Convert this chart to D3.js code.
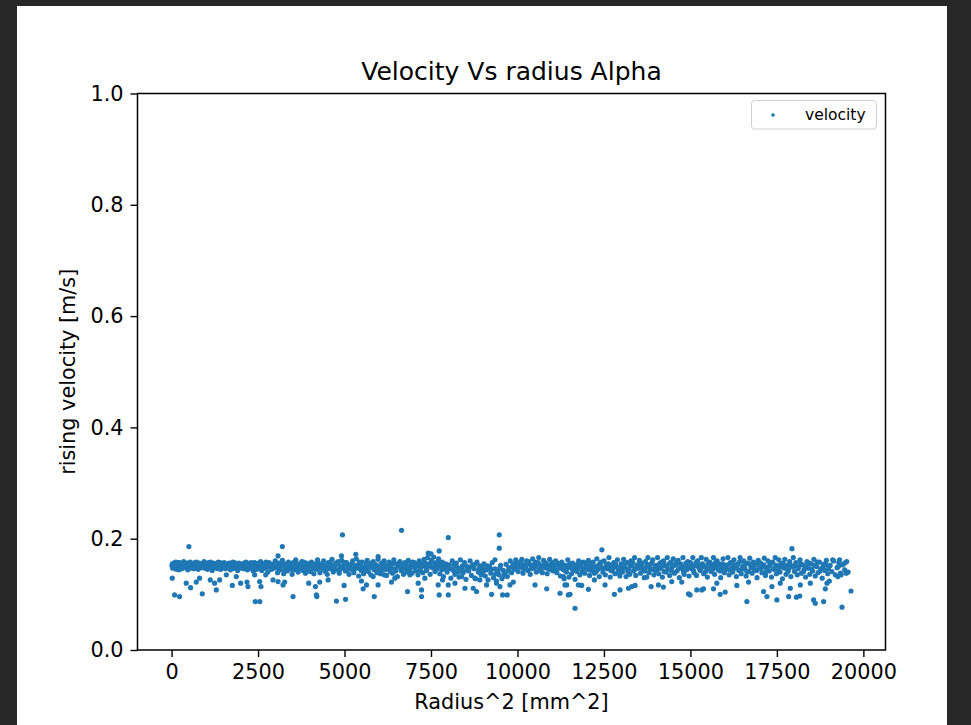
<!DOCTYPE html>
<html>
<head>
<meta charset="utf-8">
<script src="https://cdn.jsdelivr.net/npm/d3@7/dist/d3.min.js"></script>
<style>
  html, body { margin: 0; padding: 0; background: #282828; }
  svg { display: block; }
  text { font-family: "DejaVu Sans", sans-serif; fill: #000; }
</style>
</head>
<body>
<svg id="chart" width="971" height="725"></svg>
<script>
// Measured rise velocity [m/s] against squared bubble radius [mm^2], as [radius^2, velocity].
const bandPoints = [
  [10,.152],[35,.147],[60,.156],[90,.150],[120,.158],[140,.145],[170,.153],[200,.149],[230,.157],[265,.151],[290,.146],[320,.155],[350,.159],[380,.148],[410,.153],[445,.156],[470,.144],[500,.151],[540,.158],[570,.149],[600,.154],[640,.146],[670,.157],[700,.150],[735,.153],[770,.145],[800,.156],[840,.151],[870,.148],[905,.155],[940,.159],[970,.147],
  [1005,.152],[1040,.145],[1075,.157],[1110,.150],[1140,.154],[1175,.143],[1210,.156],[1245,.149],[1280,.153],[1315,.147],[1350,.158],[1385,.151],[1420,.145],[1455,.155],[1490,.150],[1520,.157],[1560,.146],[1595,.153],[1630,.149],[1665,.156],[1700,.144],[1735,.152],[1770,.158],[1805,.147],[1840,.154],[1875,.150],[1910,.143],[1945,.156],[1980,.151],
  [2015,.148],[2050,.155],[2085,.146],[2120,.152],[2150,.158],[2190,.144],[2225,.150],[2260,.156],[2295,.148],[2330,.153],[2365,.142],[2400,.157],[2435,.149],[2470,.154],[2505,.146],[2540,.152],[2575,.159],[2610,.143],[2645,.150],[2680,.155],[2715,.147],[2750,.153],[2785,.140],[2820,.157],[2855,.149],[2890,.145],[2925,.154],[2960,.151],[2995,.160],
  [3030,.148],[3065,.139],[3100,.156],[3135,.144],[3170,.152],[3205,.161],[3240,.137],[3275,.149],[3310,.155],[3345,.142],[3380,.158],[3415,.146],[3450,.151],[3485,.136],[3520,.157],[3555,.144],[3590,.162],[3625,.149],[3660,.140],[3695,.154],[3730,.147],[3765,.159],[3800,.143],[3835,.151],[3870,.138],[3905,.156],[3940,.148],[3975,.153],
  [4010,.141],[4045,.158],[4080,.150],[4115,.137],[4150,.155],[4185,.145],[4220,.162],[4255,.149],[4290,.139],[4325,.153],[4360,.147],[4395,.160],[4430,.143],[4465,.151],[4500,.136],[4535,.157],[4570,.146],[4605,.152],[4640,.163],[4675,.140],[4710,.149],[4745,.156],[4780,.144],[4815,.159],[4850,.138],[4885,.151],[4920,.161],[4955,.147],[4990,.154],
  [5025,.142],[5060,.157],[5095,.149],[5130,.136],[5165,.153],[5200,.145],[5235,.160],[5270,.139],[5305,.151],[5340,.164],[5375,.147],[5410,.133],[5445,.155],[5480,.143],[5515,.158],[5550,.137],[5585,.150],[5620,.146],[5655,.161],[5690,.141],[5725,.154],[5760,.135],[5795,.148],[5830,.159],[5865,.144],[5900,.152],[5935,.139],[5970,.163],
  [6005,.149],[6040,.137],[6075,.156],[6110,.144],[6145,.160],[6180,.151],[6215,.134],[6250,.147],[6285,.158],[6320,.141],[6355,.153],[6390,.138],[6425,.162],[6460,.146],[6495,.155],[6530,.132],[6565,.150],[6600,.159],[6635,.143],[6670,.152],[6705,.136],[6740,.157],[6775,.148],[6810,.140],[6845,.161],[6880,.145],[6915,.154],[6950,.138],[6985,.150],
  [7020,.157],[7055,.142],[7090,.151],[7125,.135],[7160,.160],[7195,.147],[7230,.155],[7265,.139],[7300,.163],[7335,.150],[7370,.143],[7405,.166],[7440,.155],[7475,.136],[7510,.161],[7545,.148],[7580,.167],[7615,.141],[7650,.157],[7685,.152],[7720,.164],[7755,.137],[7790,.150],[7825,.158],[7860,.132],[7895,.146],[7930,.155],[7965,.140],
  [8030,.153],[8075,.129],[8115,.160],[8150,.143],[8190,.136],[8230,.156],[8270,.148],[8310,.131],[8350,.162],[8390,.145],[8430,.139],[8470,.157],[8510,.127],[8550,.150],[8590,.142],[8630,.160],[8670,.134],[8710,.153],[8750,.146],[8790,.128],[8830,.158],[8870,.140],[8910,.151],[8950,.135],[8990,.147],
  [9030,.155],[9070,.133],[9110,.144],[9150,.126],[9190,.150],[9230,.138],[9270,.157],[9310,.130],[9350,.146],[9390,.124],[9430,.141],[9470,.135],[9510,.152],[9550,.128],[9590,.143],[9630,.137],[9670,.154],[9710,.132],[9750,.148],[9790,.160],[9830,.139],[9870,.155],[9910,.145],[9950,.162],[9985,.150],
  [10020,.141],[10055,.157],[10090,.149],[10125,.163],[10160,.138],[10195,.153],[10230,.146],[10265,.160],[10300,.143],[10335,.155],[10370,.136],[10405,.151],[10440,.164],[10475,.147],[10510,.158],[10545,.140],[10580,.154],[10615,.166],[10650,.145],[10685,.152],[10720,.139],[10755,.161],[10790,.148],[10825,.156],[10860,.137],[10895,.150],[10930,.163],[10965,.144],
  [11000,.157],[11035,.142],[11070,.151],[11105,.160],[11140,.139],[11175,.154],[11210,.147],[11245,.133],[11280,.158],[11315,.145],[11350,.128],[11385,.152],[11420,.140],[11455,.162],[11490,.131],[11525,.149],[11560,.137],[11595,.156],[11630,.143],[11665,.127],[11700,.153],[11735,.146],[11770,.160],[11805,.135],[11840,.150],[11875,.142],[11910,.158],[11945,.138],[11980,.155],
  [12015,.147],[12050,.161],[12085,.134],[12120,.152],[12155,.143],[12190,.158],[12225,.138],[12260,.150],[12295,.164],[12330,.145],[12365,.132],[12400,.156],[12435,.148],[12470,.140],[12505,.160],[12540,.135],[12575,.153],[12610,.146],[12645,.166],[12680,.131],[12715,.151],[12750,.142],[12785,.157],[12820,.137],[12855,.149],[12890,.162],[12925,.144],[12960,.133],
  [13000,.155],[13035,.140],[13070,.163],[13105,.148],[13140,.132],[13175,.157],[13210,.145],[13245,.136],[13280,.160],[13315,.151],[13350,.142],[13385,.166],[13420,.134],[13455,.153],[13490,.147],[13525,.161],[13560,.138],[13595,.156],[13630,.143],[13665,.130],[13700,.159],[13735,.150],[13770,.166],[13805,.139],[13840,.154],[13875,.145],[13910,.162],[13945,.135],[13980,.151],
  [14015,.143],[14050,.166],[14085,.137],[14120,.156],[14155,.148],[14190,.131],[14225,.160],[14260,.152],[14295,.140],[14330,.166],[14365,.145],[14400,.134],[14435,.158],[14470,.149],[14505,.164],[14540,.138],[14575,.153],[14610,.142],[14645,.161],[14680,.130],[14715,.155],[14750,.147],[14785,.166],[14820,.136],[14855,.151],[14890,.144],[14925,.159],[14960,.133],
  [15000,.157],[15035,.146],[15070,.166],[15105,.139],[15140,.152],[15175,.134],[15210,.160],[15245,.148],[15280,.143],[15315,.166],[15350,.155],[15385,.137],[15420,.150],[15455,.163],[15490,.131],[15525,.146],[15560,.158],[15595,.141],[15630,.153],[15665,.166],[15700,.136],[15735,.149],[15770,.160],[15805,.144],[15840,.155],[15875,.130],[15910,.147],[15945,.164],[15980,.139],
  [16015,.152],[16050,.145],[16085,.166],[16120,.135],[16155,.157],[16190,.148],[16225,.140],[16260,.162],[16295,.151],[16330,.132],[16365,.155],[16400,.143],[16435,.166],[16470,.137],[16505,.150],[16540,.160],[16575,.146],[16610,.133],[16645,.156],[16680,.141],[16715,.165],[16750,.149],[16785,.138],[16820,.158],[16855,.144],[16890,.153],[16925,.130],[16960,.161],[16995,.147],
  [17030,.156],[17065,.139],[17100,.150],[17135,.165],[17170,.134],[17205,.147],[17240,.160],[17275,.142],[17310,.153],[17345,.131],[17380,.158],[17415,.145],[17450,.166],[17485,.137],[17520,.151],[17555,.162],[17590,.140],[17625,.155],[17660,.128],[17695,.148],[17730,.163],[17765,.136],[17800,.152],[17835,.144],[17870,.159],[17905,.132],[17940,.150],[17975,.166],
  [18010,.141],[18050,.157],[18090,.135],[18130,.149],[18170,.162],[18210,.138],[18250,.153],[18290,.145],[18330,.131],[18370,.159],[18410,.147],[18450,.136],[18490,.155],[18530,.142],[18570,.163],[18610,.133],[18650,.150],[18690,.139],[18730,.158],[18770,.146],[18810,.129],[18850,.154],[18890,.143],[18930,.161],[18970,.137],
  [19040,.152],[19090,.141],[19140,.160],[19190,.135],[19240,.148],[19290,.157],[19340,.138],[19400,.153],[19460,.144],[19520,.159],[19560,.140]
];

// Second pass of readings inside the dense core of the band.
const corePoints = [
  [25,.155],[75,.149],[110,.153],[185,.157],[215,.144],[280,.152],[335,.150],[395,.156],[455,.148],[520,.154],[590,.147],[655,.152],[720,.158],[780,.151],[855,.155],[920,.150],[985,.156],
  [1060,.148],[1125,.158],[1190,.152],[1265,.155],[1335,.146],[1400,.157],[1470,.152],[1540,.149],[1610,.155],[1680,.151],[1750,.146],[1820,.157],[1890,.153],[1960,.147],
  [2035,.152],[2100,.156],[2170,.150],[2240,.146],[2310,.157],[2380,.151],[2450,.145],[2520,.156],[2590,.148],[2660,.153],[2730,.158],[2800,.150],[2870,.154],[2940,.147],
  [3050,.152],[3120,.147],[3190,.157],[3260,.143],[3330,.150],[3400,.154],[3470,.145],[3540,.151],[3610,.156],[3680,.147],[3750,.153],[3820,.158],[3890,.144],[3960,.150],
  [4030,.155],[4100,.146],[4170,.152],[4240,.157],[4310,.148],[4380,.154],[4450,.141],[4520,.150],[4590,.158],[4660,.146],[4730,.152],[4800,.155],[4870,.145],[4940,.150],
  [5010,.157],[5080,.144],[5150,.149],[5220,.155],[5290,.146],[5360,.152],[5430,.158],[5500,.148],[5570,.143],[5640,.154],[5710,.150],[5780,.156],[5850,.147],[5920,.153],[5990,.142],
  [6060,.150],[6130,.156],[6200,.145],[6270,.152],[6340,.148],[6410,.157],[6480,.142],[6550,.154],[6620,.149],[6690,.145],[6760,.155],[6830,.150],[6900,.147],[6970,.158],
  [7040,.149],[7110,.154],[7180,.143],[7250,.151],[7320,.157],[7390,.147],[7460,.152],[7530,.159],[7600,.151],[7670,.146],[7740,.156],[7810,.144],[7880,.153],[7950,.149],
  [8055,.146],[8170,.152],[8290,.140],[8410,.151],[8530,.144],[8650,.149],[8770,.154],[8890,.145],[9010,.141],[9130,.151],[9250,.145],[9370,.137],[9490,.147],[9610,.133],[9730,.142],[9850,.149],[9930,.155],
  [10040,.150],[10110,.156],[10180,.145],[10250,.152],[10320,.159],[10390,.146],[10460,.153],[10530,.149],[10600,.157],[10670,.142],[10740,.151],[10810,.155],[10880,.146],[10950,.153],
  [11020,.149],[11090,.144],[11160,.156],[11230,.150],[11300,.154],[11370,.143],[11440,.148],[11510,.155],[11580,.146],[11650,.151],[11720,.141],[11790,.153],[11860,.157],[11930,.147],
  [12000,.152],[12070,.144],[12140,.156],[12210,.149],[12280,.141],[12350,.153],[12420,.158],[12490,.146],[12560,.150],[12630,.155],[12700,.143],[12770,.148],[12840,.154],[12910,.139],[12980,.150],
  [13050,.147],[13120,.156],[13190,.141],[13260,.152],[13330,.158],[13400,.145],[13470,.150],[13540,.155],[13610,.148],[13680,.142],[13750,.153],[13820,.147],[13890,.157],[13960,.144],
  [14030,.152],[14100,.146],[14170,.158],[14240,.141],[14310,.150],[14380,.155],[14450,.143],[14520,.152],[14590,.157],[14660,.146],[14730,.151],[14800,.140],[14870,.156],[14940,.148],
  [15020,.151],[15090,.143],[15160,.157],[15230,.153],[15300,.146],[15370,.150],[15440,.141],[15510,.155],[15580,.149],[15650,.145],[15720,.157],[15790,.150],[15860,.142],[15930,.155],
  [16000,.148],[16070,.153],[16140,.144],[16210,.157],[16280,.147],[16350,.151],[16420,.158],[16490,.145],[16560,.152],[16630,.141],[16700,.155],[16770,.148],[16840,.152],[16910,.143],[16980,.156],
  [17050,.147],[17120,.153],[17190,.141],[17260,.150],[17330,.157],[17400,.146],[17470,.152],[17540,.143],[17610,.150],[17680,.156],[17750,.147],[17820,.141],[17890,.153],[17960,.149],
  [18030,.152],[18110,.146],[18190,.155],[18270,.141],[18350,.150],[18430,.156],[18510,.145],[18590,.152],[18670,.158],[18750,.142],[18830,.149],[18910,.153],[18990,.146]
];

// Readings well above the main band.
const highPoints = [
  [501,.186],[3203,.186],[3078,.169],[4940,.207],[6648,.215],[4911,.169],[5325,.172],[5971,.168],
  [7419,.174],[7500,.173],[8000,.202],[9474,.207],[9474,.183],[7737,.178],[9349,.162],[12440,.180],[17935,.182]
];

// Readings below the main band.
const lowPoints = [
  [20,.129],[87,.099],[232,.096],[425,.120],[550,.112],[714,.122],[810,.129],[888,.101],[1120,.126],[1245,.120],[1293,.108],[1389,.126],[1583,.135],[1756,.116],[1872,.132],[1997,.120],[2180,.122],[2209,.114],[2420,.087],[2550,.087],[2402,.135],[2547,.123],[2585,.114],[2721,.135],[2933,.126],[3078,.123],[3223,.117],[3270,.122],[3512,.096],
  [3965,.120],[4159,.114],[4188,.099],[4200,.096],[4283,.122],[4525,.126],[4767,.088],[4988,.116],[5030,.091],[5490,.124],[5538,.110],[5635,.117],[5828,.132],[5860,.096],[5971,.117],[6146,.135],[6359,.122],[6455,.129],[6822,.105],[6890,.135],[7130,.120],[7226,.108],[7226,.096],[7323,.129],
  [7708,.117],[7737,.099],[8000,.099],[7834,.126],[8000,.117],[8193,.120],[8386,.132],[8482,.111],[8721,.111],[8770,.129],[8818,.105],[8914,.126],[9107,.117],[9252,.100],[9396,.120],[9570,.099],[9705,.099],[9493,.114],[9783,.117],[9880,.122],[10507,.117],[10845,.110],[11230,.102],[11326,.132],[11375,.117],[11471,.099],
  [11423,.117],[11519,.100],[11664,.075],[11761,.117],[11857,.116],[12050,.109],[12224,.126],[12532,.117],[12802,.100],[12967,.108],[13208,.111],[13305,.114],[13401,.116],[13739,.131],[13864,.114],[14075,.117],[14219,.113],[14460,.123],[14750,.122],[14943,.101],[14991,.099],[15184,.108],[15329,.108],
  [15378,.110],[15667,.110],[15764,.120],[15860,.100],[16005,.104],[16343,.116],[16633,.087],[16681,.122],[17115,.105],[17212,.096],[17356,.114],[17501,.090],[17598,.120],[17839,.096],[17887,.111],[18065,.095],[18161,.097],[18176,.117],[18466,.120],[18562,.090],[18610,.084],[18851,.087],[18900,.110],[18948,.120],[19016,.124],[19262,.132],[19358,.135],[19383,.077],[19503,.138],[19643,.106],
  [19281,.150],[19113,.162],[19310,.162],[19455,.156]
];

const xTicks = [0, 2500, 5000, 7500, 10000, 12500, 15000, 17500, 20000];
const yTicks = [0.0, 0.2, 0.4, 0.6, 0.8, 1.0];
const titleText = "Velocity Vs radius Alpha";
const xLabel = "Radius^2 [mm^2]";
const yLabel = "rising velocity [m/s]";
const seriesName = "velocity";

const svg = d3.select("#chart");
const blue = "#1f77b4";

// White figure canvas on the dark page
svg.append("rect").attr("x", 17).attr("y", 6).attr("width", 930).attr("height", 719).attr("fill", "#fff");

const plot = { left: 137.5, right: 885.5, top: 93.5, bottom: 650 };

const x = d3.scaleLinear().domain([-985, 20640]).range([plot.left, plot.right]);
const y = d3.scaleLinear().domain([0, 1]).range([plot.bottom, plot.top]);

// Scatter points
const allPoints = bandPoints.concat(corePoints, highPoints, lowPoints);
svg.append("g")
  .selectAll("circle")
  .data(allPoints)
  .join("circle")
  .attr("cx", d => x(d[0]))
  .attr("cy", d => y(d[1]))
  .attr("r", 2.6)
  .attr("fill", blue);

// Axes
const fmtY = d3.format(".1f");
const xAxis = svg.append("g")
  .attr("transform", `translate(0,${plot.bottom})`)
  .call(d3.axisBottom(x).tickValues(xTicks).tickFormat(d3.format("d")).tickSize(7).tickPadding(7));
const yAxis = svg.append("g")
  .attr("transform", `translate(${plot.left},0)`)
  .call(d3.axisLeft(y).tickValues(yTicks).tickFormat(fmtY).tickSize(7).tickPadding(7));

[xAxis, yAxis].forEach(g => {
  g.select(".domain").remove();
  g.selectAll(".tick line").attr("stroke", "#000").attr("stroke-width", 1.4);
  g.selectAll(".tick text").attr("font-size", 20.8).attr("font-family", "DejaVu Sans").attr("fill", "#000");
});

// Frame
svg.append("rect")
  .attr("x", plot.left).attr("y", plot.top)
  .attr("width", plot.right - plot.left).attr("height", plot.bottom - plot.top)
  .attr("fill", "none").attr("stroke", "#000").attr("stroke-width", 1.5);

// Title and axis labels
svg.append("text")
  .attr("x", (plot.left + plot.right) / 2).attr("y", 80)
  .attr("text-anchor", "middle").attr("font-size", 25)
  .text(titleText);

svg.append("text")
  .attr("x", (plot.left + plot.right) / 2).attr("y", 709)
  .attr("text-anchor", "middle").attr("font-size", 20.8)
  .text(xLabel);

svg.append("text")
  .attr("transform", `translate(75,${(plot.top + plot.bottom) / 2}) rotate(-90)`)
  .attr("text-anchor", "middle").attr("font-size", 20.8)
  .text(yLabel);

// Legend
const legend = svg.append("g");
legend.append("rect")
  .attr("x", 751.5).attr("y", 100.5).attr("width", 125).attr("height", 28.5)
  .attr("rx", 3).attr("fill", "#fff").attr("fill-opacity", 0.8)
  .attr("stroke", "#d0d0d0").attr("stroke-width", 1);
legend.append("circle").attr("cx", 773).attr("cy", 115).attr("r", 1.8).attr("fill", blue);
legend.append("text").attr("x", 805).attr("y", 119.5).attr("font-size", 15.5).text(seriesName);
</script>
</body>
</html>
